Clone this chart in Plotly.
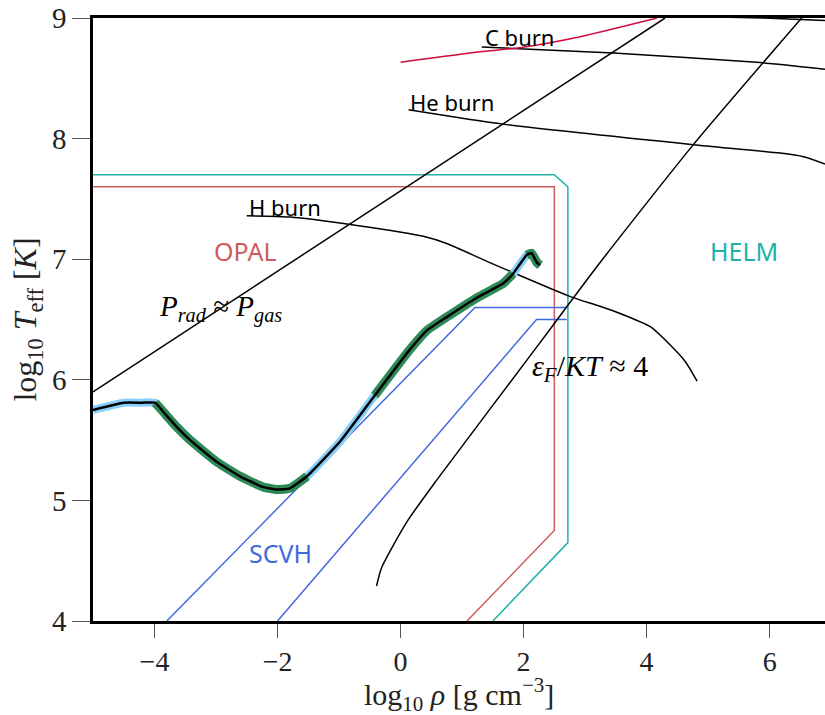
import plotly.graph_objects as go

# Stellar evolution track in the density-temperature plane
track_logrho = [-5.0, -4.5, -4.2, -3.99, -3.85, -3.64, -3.42, -2.99, -2.61, -2.23,
                -2.01, -1.80, -1.52, -0.98, -0.42, 0.15, 0.43, 0.75, 1.24, 1.67,
                1.83, 2.05, 2.13, 2.22, 2.27]
track_logT = [5.75, 5.81, 5.81, 5.81, 5.73, 5.61, 5.50, 5.32, 5.20, 5.11,
              5.09, 5.10, 5.20, 5.49, 5.87, 6.25, 6.41, 6.52, 6.68, 6.80,
              6.88, 7.035, 7.05, 6.97, 6.95]
# index ranges of the track flagged as convective-core phases
flagged_phases = [(3, 12), (14, 20), (21, 24)]

# EOS table boundaries
opal_logrho = [-5.0, 2.5, 2.5, 1.08]
opal_logT = [7.6, 7.6, 4.75, 4.0]
helm_logrho = [-5.0, 2.5, 2.72, 2.72, 1.5]
helm_logT = [7.7, 7.7, 7.6, 4.65, 4.0]
scvh_upper_logrho = [-3.8, 1.21, 2.70]
scvh_upper_logT = [4.0, 6.6, 6.6]
scvh_lower_logrho = [-2.0, 2.21, 2.70]
scvh_lower_logT = [4.0, 6.5, 6.5]

# Pressure balance and degeneracy lines
prad_logrho = [-5.0, 4.3]
prad_logT = [5.9, 9.0]
degen_logrho = [-0.39, -0.31, 0.10, 0.59, 2.27, 3.24, 4.76, 6.52]
degen_logT = [4.29, 4.44, 4.82, 5.17, 6.31, 6.97, 7.95, 9.0]

# Nuclear burning ignition curves
hburn_logrho = [-2.50, -1.80, -0.71, 0.37, 0.75, 1.46, 2.76, 3.24, 3.57, 4.06, 4.38, 4.63, 4.82]
hburn_logT = [7.36, 7.35, 7.28, 7.19, 7.13, 6.97, 6.69, 6.61, 6.55, 6.44, 6.29, 6.15, 5.99]
heburn_logrho = [0.13, 1.67, 4.76, 6.17, 6.55, 6.90]
heburn_logT = [8.24, 8.12, 7.95, 7.88, 7.85, 7.79]
cburn_logrho = [1.32, 3.46, 5.85, 6.90]
cburn_logT = [8.76, 8.71, 8.63, 8.575]
oburn_logrho = [5.0, 5.9, 6.9]
oburn_logT = [9.01, 9.0, 8.98]
red_logrho = [0.0, 1.29, 1.94, 2.92, 4.17]
red_logT = [8.633, 8.72, 8.754, 8.845, 9.0]

fig = go.Figure()


def line(x, y, color, width=1.5, smooth=0.0):
    shape = dict(shape="spline", smoothing=smooth) if smooth else {}
    fig.add_trace(go.Scatter(x=x, y=y, mode="lines", showlegend=False,
                             hoverinfo="skip",
                             line=dict(color=color, width=width, **shape)))


line(opal_logrho, opal_logT, "#cd5c5c")
line(helm_logrho, helm_logT, "#20b2aa")
line(scvh_upper_logrho, scvh_upper_logT, "#4169e1")
line(scvh_lower_logrho, scvh_lower_logT, "#4169e1")
line(prad_logrho, prad_logT, "black")
line(degen_logrho, degen_logT, "black", smooth=0.6)
line(hburn_logrho, hburn_logT, "black", smooth=0.6)
line(heburn_logrho, heburn_logT, "black", smooth=0.6)
line(cburn_logrho, cburn_logT, "black", smooth=0.6)
line(oburn_logrho, oburn_logT, "black")
line(red_logrho, red_logT, "#d10a3c", smooth=0.6)

# track: light-blue halo, green flagged phases, black centre line
line(track_logrho, track_logT, "#87cefa", 8, smooth=0.4)
for i0, i1 in flagged_phases:
    line(track_logrho[i0:i1 + 1], track_logT[i0:i1 + 1], "#2e8b57", 9, smooth=0.4)
line(track_logrho, track_logT, "black", 2.5, smooth=0.4)

sans = "Noto Sans"
serif = "Liberation Serif"
labels = [
    (-2.53, 7.07, "OPAL", "#cd5c5c", 25, "center"),
    (5.585, 7.07, "HELM", "#20b2aa", 25, "center"),
    (-1.96, 4.56, "SCVH", "#4169e1", 25, "center"),
    (-2.50, 7.43, "H burn", "black", 22, "left"),
    (0.12, 8.30, "He burn", "black", 22, "left"),
    (1.34, 8.84, "C burn", "black", 22, "left"),
]
for x, y, t, c, s, a in labels:
    fig.add_annotation(x=x, y=y, text=t, showarrow=False, xanchor=a,
                       font=dict(family=sans, size=s, color=c))

fig.add_annotation(x=-2.93, y=6.59, showarrow=False,
                   text="<i>P</i><sub><i>rad</i></sub> ≈ <i>P</i><sub><i>gas</i></sub>",
                   font=dict(family=serif, size=29, color="black"))
fig.add_annotation(x=3.08, y=6.10, showarrow=False,
                   text="<i>ε</i><sub><i>F</i></sub>/<i>KT</i> ≈ 4",
                   font=dict(family=serif, size=30, color="black"))

# x-axis title placed below the tick labels
fig.add_annotation(x=0.5, xref="paper", y=-0.122, yref="paper",
                   xanchor="center", yanchor="middle", showarrow=False,
                   text="log<sub>10</sub> <i>ρ</i> [g cm<sup>−3</sup>]",
                   font=dict(family=serif, size=30, color="#222"))

fig.update_layout(
    width=825, height=715,
    margin=dict(l=93, r=0, t=18, b=94),
    plot_bgcolor="white", paper_bgcolor="white",
    font=dict(family=serif, size=24, color="#222"),
)
fig.update_xaxes(
    range=[-5, 6.9], tickvals=[-4, -2, 0, 2, 4, 6],
    ticktext=["−4", "−2", "0", "2", "4", "6"],
    showgrid=False, zeroline=False,
    showline=True, linecolor="black", linewidth=2.5, mirror=True,
    ticks="outside", ticklen=14, tickcolor="#555", tickwidth=1.2,
    tickfont=dict(family=serif, size=28),
)
fig.update_yaxes(
    range=[4, 9], tickvals=[4, 5, 6, 7, 8, 9],
    showgrid=False, zeroline=False,
    showline=True, linecolor="black", linewidth=2.5, mirror=False,
    ticks="outside", ticklen=18, tickcolor="#555", tickwidth=1.2,
    tickfont=dict(family=serif, size=29),
    title=dict(text="log<sub>10</sub> <i>T</i><sub>eff</sub> [<i>K</i>]",
               font=dict(family=serif, size=32), standoff=6),
)

fig.write_html("out.html")
